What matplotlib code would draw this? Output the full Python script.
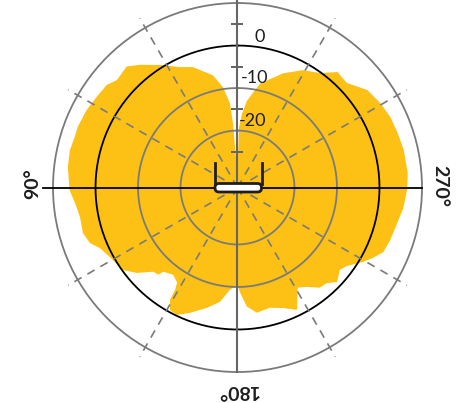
import numpy as np
import matplotlib
matplotlib.use('Agg')
import matplotlib.pyplot as plt
from matplotlib.patches import FancyBboxPatch

# Diagramme de rayonnement (gain en dB selon l'angle, 0° en haut, sens anti-horaire)
angles_deg = [0, 3.5, 4.0, 5.1, 8.2, 12.3, 20.3, 25.5, 32.3, 38.5, 42.5, 48.3, 51.9,
              57.2, 62.8, 69.2, 72.7, 77.4, 83.1, 90.9, 95.4, 100.6, 106.4, 110.6,
              113.7, 118.6, 125.8, 130.4, 135.0, 137.7, 138.6, 143.6, 147.6, 148.6,
              149.0, 151.1, 154.6, 159.3, 165.8, 171.3, 175.8, 178.6, 180.0, 181.4,
              184.5, 188.8, 195.1, 200.7, 205.9, 211.0, 214.9, 219.4, 223.1, 226.5,
              231.2, 234.4, 239.3, 242.5, 246.1, 251.0, 257.5, 262.9, 269.2, 274.9,
              282.8, 288.9, 294.8, 300.7, 306.9, 313.7, 317.7, 319.0, 324.2, 330.9,
              338.3, 347.8, 353.8, 356.5, 358.6, 360]
gain_db = [-30, -24, -18.4, -13.6, -9.6, -6.4, -3.2, -2.0, 0.7, 3.5, 5.2, 4.6, 5.7,
           6.0, 6.5, 6.8, 6.7, 7.0, 6.8, 6.1, 5.0, 4.3, 4.5, 3.7,
           2.0, 0.8, -0.2, -2.4, -5.4, -5.7, -7.0, -7.9, -6.9, -5.2,
           -2.6, -0.5, -0.2, -1.9, -4.2, -6.2, -9.3, -10.1, -10.5, -8.7,
           -5.3, -3.6, -4.1, -3.1, -1.4, -5.9, -4.9, -2.9, -2.6, -1.1,
           -2.5, -1.7, 0.9, 2.5, 4.1, 4.6, 5.1, 5.9, 6.5, 6.8,
           6.7, 6.4, 6.2, 5.6, 4.8, 2.2, 2.4, 2.6, -0.2, -1.8,
           -4.5, -8.4, -12.9, -16.0, -19.4, -30]

r_min, r_max = -33.4, 10
ring_levels = [0, -10, -20]
ring_labels = ['0', '-10', '-20']
minor_ticks = [5, -5, -15, -25]
dash_angles = [30, 60, 120, 150, 210, 240, 300, 330]
deg_labels = ['90°', '180°', '270°']

yellow = '#FCC114'
grey = '#7a7a7a'
ink = '#1e1e1e'

fig = plt.figure(figsize=(4.62, 4.03), dpi=100)
ax = fig.add_axes([0.1147, 0.0769, 0.7987, 0.9156], projection='polar')
ax.set_theta_zero_location('N')
ax.set_theta_direction(1)
ax.set_rlim(r_min, r_max)
ax.set_xticks([])
ax.set_yticks([])
ax.grid(False)
ax.spines['polar'].set_color(grey)
ax.spines['polar'].set_linewidth(1.3)

# lobe jaune
ax.fill(np.radians(angles_deg), gain_db, color=yellow, lw=0, zorder=1)

# cercles
t = np.linspace(0, 2 * np.pi, 400)
for lev in ring_levels:
    c = 'black' if lev == 0 else grey
    ax.plot(t, np.full_like(t, lev), color=c, lw=1.3, zorder=3)

# lignes radiales en pointillés
for a in dash_angles:
    ax.plot([np.radians(a)] * 2, [r_min, 12.6], color=grey, lw=1.2,
            dashes=(5, 4), zorder=3, clip_on=False)

# axes principaux
ax.plot([0, 0], [r_min, 11.2], color='#666666', lw=1.5, zorder=4, clip_on=False)
ax.plot([np.pi, np.pi], [r_min, r_max], color='#666666', lw=1.5, zorder=4, clip_on=False)
ax.plot([np.pi / 2] * 2, [r_min, 12.4], color='black', lw=1.3, zorder=4, clip_on=False)
ax.plot([3 * np.pi / 2] * 2, [r_min, r_max], color='black', lw=1.3, zorder=4, clip_on=False)
ax.plot([0] * len(minor_ticks), minor_ticks, ls='none', marker='_', ms=8,
        mew=1.3, color='#666666', zorder=4)

# étiquettes des cercles
offsets = [(22, 9), (17, 10), (15, 10)]
for lev, lab, off in zip(ring_levels, ring_labels, offsets):
    ax.annotate(lab, xy=(0, lev), xytext=off, textcoords='offset pixels',
                ha='center', va='center', fontsize=13, family='Lato',
                fontweight='normal', color=ink, zorder=5)

# étiquettes des angles
ax.text(np.radians(89), 14.7, deg_labels[0], rotation=90, ha='center', va='center',
        fontsize=14, fontweight='bold', family='Lato', color=ink)
ax.text(np.radians(180), 14.25, deg_labels[1], rotation=180, ha='center', va='center',
        fontsize=14, fontweight='bold', family='Lato', color=ink)
ax.text(np.radians(270.4), 14.25, deg_labels[2], rotation=-90, ha='center', va='center',
        fontsize=14, fontweight='bold', family='Lato', color=ink)

# icône de l'antenne
ov = fig.add_axes([0, 0, 1, 1], zorder=10)
ov.set_xlim(0, 462)
ov.set_ylim(403, 0)
ov.axis('off')
ov.plot([214.5, 214.5], [163, 184], color=ink, lw=2)
ov.plot([261.8, 261.8], [163, 184], color=ink, lw=2)
ov.add_patch(FancyBboxPatch((215, 183.5), 46.5, 8.5, boxstyle='round,pad=0,rounding_size=4',
                            fc='white', ec=ink, lw=2))

fig.savefig('out.png', dpi=100)
